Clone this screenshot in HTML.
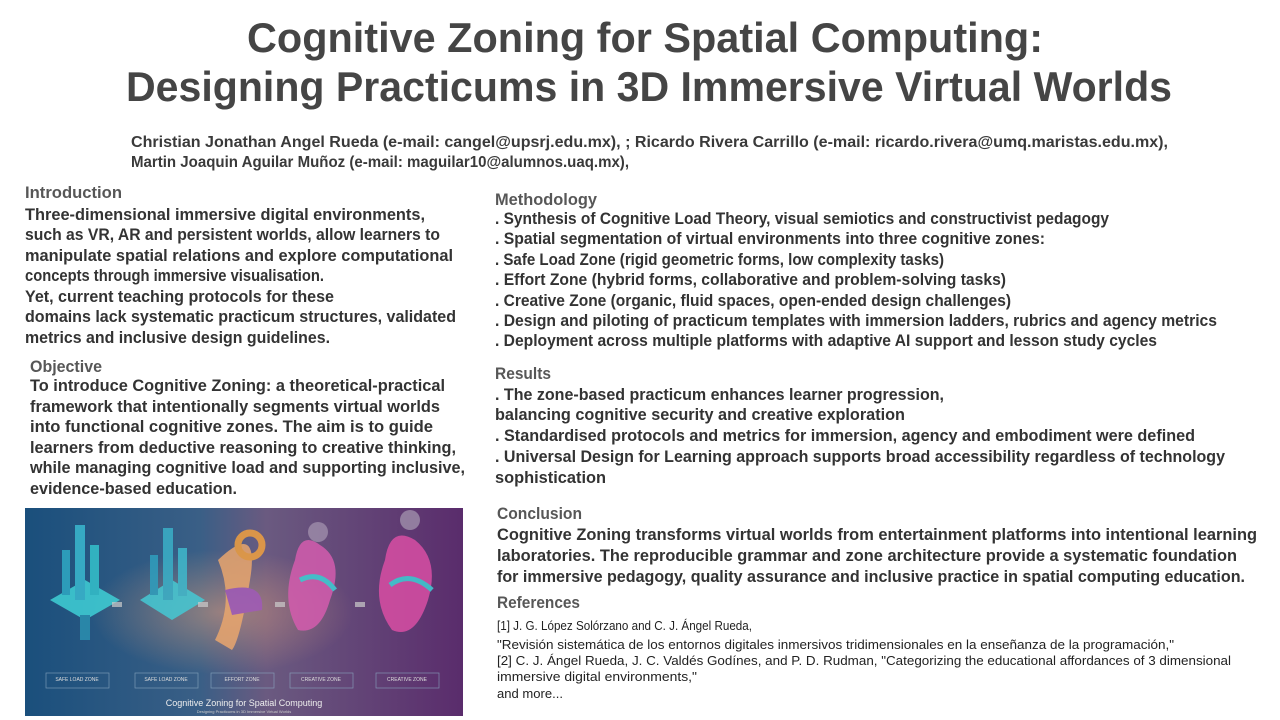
<!DOCTYPE html>
<html><head><meta charset="utf-8"><style>
html,body{margin:0;padding:0;background:#fff;width:1280px;height:720px;overflow:hidden}
svg{display:block}
text{font-family:"Liberation Sans",sans-serif;fill:#333}
.t{font-size:42px;font-weight:bold;fill:#454545}
.a{font-size:16px;font-weight:bold;fill:#3a3a3a}
.h{font-size:17px;fill:#3a3a3a;font-weight:bold;opacity:.85}
.b{font-size:17px;font-weight:bold;fill:#333}
.r{font-size:13px;fill:#222}
</style></head><body>
<svg width="1280" height="720" viewBox="0 0 1280 720" xmlns="http://www.w3.org/2000/svg" lengthAdjust="spacingAndGlyphs">
<defs>
<linearGradient id="bg" x1="0" y1="0" x2="1" y2="0">
<stop offset="0" stop-color="#1a4f7c"/><stop offset="0.4" stop-color="#3a5f86"/><stop offset="0.55" stop-color="#6a5a80"/><stop offset="1" stop-color="#5a2c6c"/></linearGradient>
<radialGradient id="glow" cx="0.45" cy="0.5" r="0.3"><stop offset="0" stop-color="#e9a27a" stop-opacity=".5"/><stop offset="1" stop-color="#e9a27a" stop-opacity="0"/></radialGradient>
</defs>
<text class="t" x="247" y="52" textLength="796" lengthAdjust="spacingAndGlyphs">Cognitive Zoning for Spatial Computing:</text>
<text class="t" x="126" y="101" textLength="1046" lengthAdjust="spacingAndGlyphs">Designing Practicums in 3D Immersive Virtual Worlds</text>
<text class="a" x="131" y="147" textLength="1037" lengthAdjust="spacingAndGlyphs">Christian Jonathan Angel Rueda (e-mail: cangel@upsrj.edu.mx), ;  Ricardo Rivera Carrillo (e-mail: ricardo.rivera@umq.maristas.edu.mx),</text>
<text class="a" x="131" y="167" textLength="498" lengthAdjust="spacingAndGlyphs">Martin Joaquin Aguilar Muñoz (e-mail: maguilar10@alumnos.uaq.mx),</text>

<text class="h" x="25" y="198" textLength="97" lengthAdjust="spacingAndGlyphs">Introduction</text>
<text class="b" x="25" y="220" textLength="400" lengthAdjust="spacingAndGlyphs">Three-dimensional immersive digital environments,</text>
<text class="b" x="25" y="240" textLength="415" lengthAdjust="spacingAndGlyphs">such as VR, AR and persistent worlds, allow learners to</text>
<text class="b" x="25" y="261" textLength="428" lengthAdjust="spacingAndGlyphs">manipulate spatial relations and explore computational</text>
<text class="b" x="25" y="281" textLength="299" lengthAdjust="spacingAndGlyphs">concepts through immersive visualisation.</text>
<text class="b" x="25" y="302" textLength="309" lengthAdjust="spacingAndGlyphs">Yet, current teaching protocols for these</text>
<text class="b" x="25" y="322" textLength="431" lengthAdjust="spacingAndGlyphs">domains lack systematic practicum structures, validated</text>
<text class="b" x="25" y="343" textLength="305" lengthAdjust="spacingAndGlyphs">metrics and inclusive design guidelines.</text>

<text class="h" x="30" y="372" textLength="72" lengthAdjust="spacingAndGlyphs">Objective</text>
<text class="b" x="30" y="391" textLength="415" lengthAdjust="spacingAndGlyphs">To introduce Cognitive Zoning: a theoretical-practical</text>
<text class="b" x="30" y="412" textLength="410" lengthAdjust="spacingAndGlyphs">framework that intentionally segments virtual worlds</text>
<text class="b" x="30" y="432" textLength="403" lengthAdjust="spacingAndGlyphs">into functional cognitive zones. The aim is to guide</text>
<text class="b" x="30" y="453" textLength="426" lengthAdjust="spacingAndGlyphs">learners from deductive reasoning to creative thinking,</text>
<text class="b" x="30" y="473" textLength="435" lengthAdjust="spacingAndGlyphs">while managing cognitive load and supporting inclusive,</text>
<text class="b" x="30" y="494" textLength="207" lengthAdjust="spacingAndGlyphs">evidence-based education.</text>

<!-- image -->
<rect x="25" y="508" width="438" height="208" fill="url(#bg)"/>
<rect x="25" y="508" width="438" height="208" fill="url(#glow)"/>
<g opacity=".85">
<path d="M50 600 L85 580 L120 600 L85 620Z" fill="#3fd0d6"/><rect x="75" y="525" width="10" height="75" fill="#3ab8d0"/><rect x="62" y="550" width="8" height="45" fill="#2fa9c4"/><rect x="90" y="545" width="9" height="50" fill="#34c2cc"/><rect x="80" y="615" width="10" height="25" fill="#2a8fb0"/>
<path d="M140 600 L172 580 L205 600 L172 620Z" fill="#45c9d4"/><rect x="163" y="528" width="10" height="72" fill="#3ab0c8"/><rect x="150" y="555" width="8" height="40" fill="#2f9fbe"/><rect x="178" y="548" width="9" height="48" fill="#3fb9cc"/>
<path d="M218 560 Q260 520 250 580 Q240 640 232 650 L215 640 Q235 600 218 560Z" fill="#e9a66e"/><path d="M225 590 Q265 580 262 610 L232 615Z" fill="#a05ab8"/><circle cx="250" cy="545" r="12" fill="none" stroke="#f0a040" stroke-width="7"/>
<path d="M295 560 Q300 530 320 545 Q345 560 330 600 Q320 635 298 630 Q280 600 295 560Z" fill="#d45cae"/><path d="M300 580 Q320 570 335 590" stroke="#3fd0d6" stroke-width="5" fill="none"/><circle cx="318" cy="532" r="10" fill="#9c8aa8"/>
<path d="M385 560 Q390 525 415 540 Q440 560 428 600 Q415 640 392 630 Q370 600 385 560Z" fill="#d94ea4"/><path d="M390 585 Q410 570 432 590" stroke="#3fd0d6" stroke-width="5" fill="none"/><circle cx="410" cy="520" r="10" fill="#9c8aa8"/>
</g>
<g fill="#ccc" opacity=".7"><rect x="112" y="602" width="10" height="5"/><rect x="198" y="602" width="10" height="5"/><rect x="275" y="602" width="10" height="5"/><rect x="355" y="602" width="10" height="5"/></g>
<g fill="none" stroke="#8aa8c0" stroke-width=".7" opacity=".8"><rect x="46" y="673" width="63" height="15"/><rect x="135" y="673" width="63" height="15"/><rect x="211" y="673" width="63" height="15"/><rect x="290" y="673" width="63" height="15"/><rect x="376" y="673" width="63" height="15"/></g>
<g font-family="Liberation Sans" font-size="5" fill="#e0e0e0" text-anchor="middle" style="fill:#e0e0e0">
<text x="77" y="681" style="fill:#ddd;font-size:5px">SAFE LOAD ZONE</text><text x="166" y="681" style="fill:#ddd;font-size:5px">SAFE LOAD ZONE</text><text x="242" y="681" style="fill:#ddd;font-size:5px">EFFORT ZONE</text><text x="321" y="681" style="fill:#ddd;font-size:5px">CREATIVE ZONE</text><text x="407" y="681" style="fill:#ddd;font-size:5px">CREATIVE ZONE</text>
<text x="244" y="706" style="fill:#eee;font-size:9px">Cognitive Zoning for Spatial Computing</text>
<text x="244" y="713" style="fill:#ccc;font-size:4px">Designing Practicums in 3D Immersive Virtual Worlds</text>
</g>

<text class="h" x="495" y="205" textLength="102" lengthAdjust="spacingAndGlyphs">Methodology</text>
<text class="b" x="495" y="224" textLength="614" lengthAdjust="spacingAndGlyphs">. Synthesis of Cognitive Load Theory, visual semiotics and constructivist pedagogy</text>
<text class="b" x="495" y="244" textLength="550" lengthAdjust="spacingAndGlyphs">. Spatial segmentation of virtual environments into three cognitive zones:</text>
<text class="b" x="495" y="265" textLength="449" lengthAdjust="spacingAndGlyphs">. Safe Load Zone (rigid geometric forms, low complexity tasks)</text>
<text class="b" x="495" y="285" textLength="511" lengthAdjust="spacingAndGlyphs">. Effort Zone (hybrid forms, collaborative and problem-solving tasks)</text>
<text class="b" x="495" y="306" textLength="516" lengthAdjust="spacingAndGlyphs">. Creative Zone (organic, fluid spaces, open-ended design challenges)</text>
<text class="b" x="495" y="326" textLength="722" lengthAdjust="spacingAndGlyphs">. Design and piloting of practicum templates with immersion ladders, rubrics and agency metrics</text>
<text class="b" x="495" y="346" textLength="662" lengthAdjust="spacingAndGlyphs">. Deployment across multiple platforms with adaptive AI support and lesson study cycles</text>

<text class="h" x="495" y="379" textLength="56" lengthAdjust="spacingAndGlyphs">Results</text>
<text class="b" x="495" y="400" textLength="449" lengthAdjust="spacingAndGlyphs">. The zone-based practicum enhances learner progression,</text>
<text class="b" x="495" y="420" textLength="410" lengthAdjust="spacingAndGlyphs">balancing cognitive security and creative exploration</text>
<text class="b" x="495" y="441" textLength="700" lengthAdjust="spacingAndGlyphs">. Standardised protocols and metrics for immersion, agency and embodiment were defined</text>
<text class="b" x="495" y="462" textLength="730" lengthAdjust="spacingAndGlyphs">. Universal Design for Learning approach supports broad accessibility regardless of technology</text>
<text class="b" x="495" y="483" textLength="111" lengthAdjust="spacingAndGlyphs">sophistication</text>

<text class="h" x="497" y="519" textLength="85" lengthAdjust="spacingAndGlyphs">Conclusion</text>
<text class="b" x="497" y="540" textLength="760" lengthAdjust="spacingAndGlyphs">Cognitive Zoning transforms virtual worlds from entertainment platforms into intentional learning</text>
<text class="b" x="497" y="561" textLength="740" lengthAdjust="spacingAndGlyphs">laboratories.  The reproducible grammar and zone architecture provide a  systematic foundation</text>
<text class="b" x="497" y="582" textLength="748" lengthAdjust="spacingAndGlyphs">for immersive pedagogy, quality assurance and inclusive practice in spatial computing education.</text>

<text class="h" x="497" y="608" textLength="83" lengthAdjust="spacingAndGlyphs">References</text>
<text class="r" x="497" y="630" textLength="255" lengthAdjust="spacingAndGlyphs">[1] J. G. López Solórzano and C. J. Ángel Rueda,</text>
<text class="r" x="497" y="649" textLength="677" lengthAdjust="spacingAndGlyphs">"Revisión sistemática de los entornos digitales inmersivos tridimensionales en la enseñanza de la programación,"</text>
<text class="r" x="497" y="665" textLength="734" lengthAdjust="spacingAndGlyphs">[2] C. J. Ángel Rueda, J. C. Valdés Godínes, and P. D. Rudman, "Categorizing the educational affordances of 3 dimensional</text>
<text class="r" x="497" y="681" textLength="200" lengthAdjust="spacingAndGlyphs">immersive digital environments,"</text>
<text class="r" x="497" y="698" textLength="66" lengthAdjust="spacingAndGlyphs">and more...</text>
</svg>
</body></html>
